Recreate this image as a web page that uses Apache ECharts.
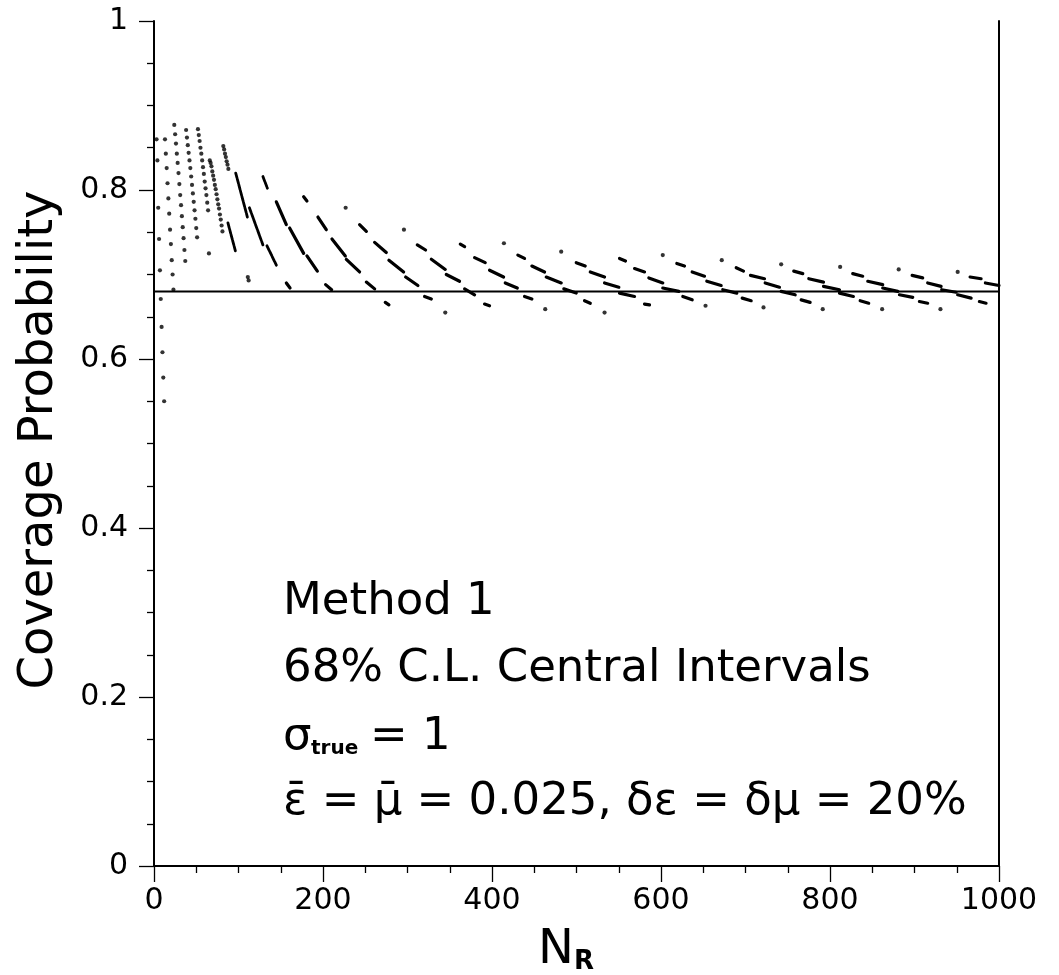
<!DOCTYPE html>
<html>
<head>
<meta charset="utf-8">
<script src="https://cdn.jsdelivr.net/npm/echarts@6/dist/echarts.min.js"></script>
<style>
html,body{margin:0;padding:0;background:#fff;}
#chart{width:1059px;height:975px;}
</style>
</head>
<body>
<div id="chart"></div>
<script>
// ---- data (N_R, coverage probability) ----
const xTicks = [0, 200, 400, 600, 800, 1000];
const yTicks = [0, 0.2, 0.4, 0.6, 0.8, 1];
const nominalCL = 0.68;

const colA = [[3,0.860],[4,0.835],[5,0.779],[6,0.742],[7,0.705],[8,0.671],[9,0.638],[10,0.608],[11,0.578],[12,0.550]];
const colB = [[13,0.860],[14,0.843],[15,0.826],[16,0.808],[17,0.790],[18,0.772],[19,0.753],[20,0.736],[21,0.717],[22,0.700],[23,0.682]];
const colC = [[24,0.877],[25,0.866],[26,0.855],[27,0.843],[28,0.832],[29,0.820],[30,0.807],[31,0.794],[32,0.782],[33,0.769],[34,0.756],[35,0.743],[36,0.729],[37,0.716]];
const colD = [[38,0.871],[39,0.862],[40,0.853],[41,0.844],[42,0.835],[43,0.826],[44,0.816],[45,0.806],[46,0.796],[47,0.786],[48,0.776],[49,0.766],[50,0.755],[51,0.744]];
const colE = [[52,0.872],[53,0.865],[54,0.858],[55,0.850],[56,0.843],[57,0.835],[58,0.827],[59,0.819],[60,0.810],[61,0.802],[62,0.794],[63,0.785],[64,0.776],[65,0.725]];
const colF = [[66,0.835],[67,0.832],[68,0.828],[69,0.822],[70,0.817],[71,0.812],[72,0.806],[73,0.801],[74,0.795],[75,0.789],[76,0.783],[77,0.778],[78,0.771],[79,0.765],[80,0.758],[81,0.751]];
const colG = [[82,0.852],[83,0.848],[84,0.843],[85,0.839],[86,0.834],[87,0.830],[88,0.825]];

const isolatedDots = [[111,0.697],[112,0.693],[226.8,0.779],[295.8,0.753],[344.7,0.655],[414.1,0.737],[463.0,0.659],[481.9,0.727],[533.2,0.655],[602.1,0.723],[652.7,0.663],[671.9,0.717],[721.3,0.661],[742.2,0.712],[791.4,0.659],[812.0,0.709],[861.7,0.659],[881.3,0.706],[930.7,0.659],[951.1,0.703]];

// steep runs of distinct points: [x1, y1, x2, y2]
const steepRuns = [
[87.5,0.761,96.3,0.728],[96.7,0.820,110.5,0.768],[112.9,0.779,128.9,0.735],[128.9,0.816,134.2,0.802],
[133.7,0.734,144.8,0.711]
];
// runs of merged points: [x1, y1, x2, y2]
const dashes = [
[144.8,0.786,156.6,0.759],[156.6,0.690,161.0,0.684],[160.5,0.755,177.1,0.725],
[177.1,0.792,181.0,0.787],[181.0,0.722,193.3,0.704],[194.0,0.768,203.9,0.753],[203.1,0.688,210.2,0.682],
[210.6,0.742,226.4,0.722],[227.6,0.718,243.3,0.703],[243.3,0.759,251.3,0.751],[251.3,0.691,261.1,0.683],
[261.1,0.738,274.9,0.726],[273.7,0.667,278.0,0.664],[278.0,0.717,295.4,0.703],[297.8,0.697,312.3,0.687],
[311.6,0.735,321.4,0.729],[320.2,0.674,328.2,0.671],[328.2,0.718,344.7,0.706],[345.9,0.700,361.6,0.692],
[362.5,0.736,367.6,0.733],[367.6,0.683,379.4,0.676],[379.4,0.720,392.0,0.714],[391.2,0.665,397.1,0.663],
[397.1,0.705,413.7,0.697],[415.7,0.690,429.9,0.684],[430.6,0.723,438.5,0.719],[438.5,0.674,447.2,0.671],
[447.2,0.710,462.2,0.703],[464.2,0.697,481.9,0.690],[485.0,0.683,499.7,0.678],[499.7,0.714,510.3,0.710],
[509.5,0.669,516.3,0.666],[516.3,0.703,533.2,0.697],[533.2,0.690,550.1,0.685],[550.9,0.719,558.0,0.716],
[550.9,0.678,568.7,0.674],[568.7,0.707,580.5,0.703],[580.5,0.665,586.4,0.664],[585.6,0.696,602.1,0.690],
[602.1,0.684,621.1,0.680],[618.7,0.713,627.8,0.710],[625.8,0.674,636.9,0.670],[636.9,0.703,651.5,0.698],
[654.2,0.692,671.2,0.687],[673.1,0.682,689.7,0.678],[689.0,0.708,697.6,0.704],[696.1,0.672,706.7,0.669],
[705.9,0.699,722.5,0.695],[723.3,0.690,740.2,0.685],[742.2,0.680,758.8,0.676],[757.1,0.704,767.8,0.701],
[765.9,0.670,776.5,0.667],[774.9,0.695,792.3,0.691],[792.3,0.686,811.2,0.682],[811.2,0.678,827.7,0.674],
[826.9,0.701,838.7,0.698],[835.7,0.669,845.8,0.666],[844.7,0.692,862.4,0.688],[862.4,0.684,880.2,0.680],
[882.2,0.676,897.9,0.673],[897.2,0.699,909.7,0.696],[905.8,0.668,915.6,0.666],[915.6,0.690,931.5,0.686],
[932.2,0.682,949.2,0.679],[951.1,0.676,967.0,0.672],[965.8,0.697,978.8,0.695],[976.8,0.668,984.7,0.666],
[983.9,0.690,1000,0.687]
];

const FONT = 'DejaVu Sans';
const chart = echarts.init(document.getElementById('chart'), null, {renderer:'canvas'});

const allDots = [].concat(colA, colB, colC, colD, colE, colF, colG, isolatedDots);
const toLines = arr => arr.map(d => ({coords:[[d[0],d[1]],[d[2],d[3]]]}));

const tickStyle = {color:'#000', width:1.3};
const txt = (x, y, text, size, extra) => ({
  type:'text', x:x, y:y,
  style:Object.assign({text:text, fontSize:size, fontFamily:FONT, fill:'#000', align:'left', verticalAlign:'top'}, extra || {})
});

const option = {
  animation: false,
  backgroundColor: '#fff',
  grid: {left:154, right:60, top:21, bottom:109, containLabel:false},
  xAxis: [{
    type:'value', min:xTicks[0], max:xTicks[xTicks.length-1], interval:200,
    axisLine:{show:true, onZero:false, lineStyle:{color:'#000', width:2}},
    axisTick:{show:true, length:16, lineStyle:tickStyle},
    minorTick:{show:true, splitNumber:4, length:7, lineStyle:tickStyle},
    splitLine:{show:false}, minorSplitLine:{show:false},
    axisLabel:{color:'#000', fontSize:30, fontFamily:FONT, margin:20, formatter: v => String(v)}
  }],
  yAxis: [{
    type:'value', min:yTicks[0], max:yTicks[yTicks.length-1], interval:0.2,
    axisLine:{show:true, onZero:false, lineStyle:{color:'#000', width:2}},
    axisTick:{show:true, length:15, lineStyle:tickStyle},
    minorTick:{show:true, splitNumber:4, length:7, lineStyle:tickStyle},
    splitLine:{show:false}, minorSplitLine:{show:false},
    axisLabel:{color:'#000', fontSize:30, fontFamily:FONT, margin:26, formatter: v => String(v)}
  },{
    type:'value', min:0, max:1, position:'right',
    axisLine:{show:true, onZero:false, lineStyle:{color:'#000', width:2}},
    axisTick:{show:false}, axisLabel:{show:false}, splitLine:{show:false}
  }],
  series: [
    {
      type:'line', name:'68% line', silent:true,
      data:[[xTicks[0], nominalCL],[xTicks[xTicks.length-1], nominalCL]],
      showSymbol:false, symbol:'none',
      lineStyle:{color:'#000', width:2}
    },
    {
      type:'lines', coordinateSystem:'cartesian2d', silent:true,
      data: toLines(steepRuns),
      lineStyle:{color:'#000', width:2.8, type:[5,1], cap:'round', opacity:1, curveness:0}
    },
    {
      type:'lines', coordinateSystem:'cartesian2d', silent:true,
      data: toLines(dashes),
      lineStyle:{color:'#000', width:3.2, cap:'round', opacity:1, curveness:0}
    },
    {
      type:'scatter', silent:true, symbol:'circle', symbolSize:4.2,
      data: allDots,
      itemStyle:{color:'#000'}
    }
  ],
  graphic: [
    {type:'text', x:40, y:440, rotation:Math.PI/2,
     style:{text:'Coverage Probability', fontSize:48, fontFamily:FONT, fill:'#000', align:'center', verticalAlign:'middle'}},
    txt(538, 927, 'N', 48),
    txt(574, 949, 'R', 26, {fontWeight:'bold'}),
    txt(283, 580, 'Method 1', 45),
    txt(283, 647, '68% C.L. Central Intervals', 45),
    txt(283, 715, 'σ', 45),
    txt(311, 739, 'true', 20, {fontWeight:'bold'}),
    txt(370, 715, '= 1', 45),
    txt(283, 780, 'ε̄ = μ̄ = 0.025, δε = δμ = 20%', 45)
  ]
};
chart.setOption(option);
</script>
</body>
</html>
